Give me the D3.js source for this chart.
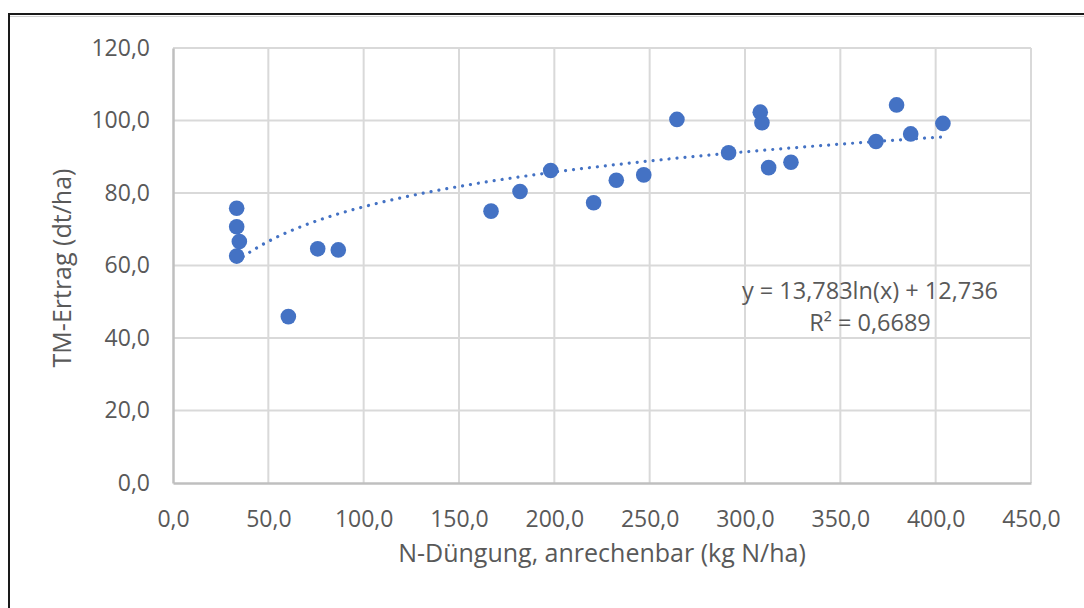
<!DOCTYPE html>
<html>
<head>
<meta charset="utf-8">
<script src="https://cdn.jsdelivr.net/npm/d3@7"></script>
<style>
  html, body { margin: 0; padding: 0; background: #fff; }
  svg { display: block; }
  text { font-family: "Open Sans", "Noto Sans", sans-serif; fill: #595959; }
</style>
</head>
<body>
<svg id="chart" width="1084" height="608"></svg>
<script>
// N-Düngung (kg N/ha) per plot
const nDuengung = [33.4, 33.4, 34.8, 33.4, 60.5, 75.9, 86.7, 166.8, 182.0, 198.1,
                   220.6, 232.5, 246.9, 264.3, 291.4, 308.0, 308.9, 312.4, 324.1,
                   368.7, 379.5, 386.9, 403.8];
// TM-Ertrag (dt/ha) per plot
const tmErtrag   = [75.8, 70.7, 66.6, 62.6, 45.9, 64.6, 64.3, 75.0, 80.4, 86.2,
                   77.3, 83.5, 85.0, 100.3, 91.1, 102.3, 99.4, 87.0, 88.5,
                   94.2, 104.3, 96.3, 99.2];
// logarithmic trend: y = a·ln(x) + b
const trendCoef = [13.783, 12.736];
const rSquared = 0.6689;
const xTicks = [0, 50, 100, 150, 200, 250, 300, 350, 400, 450];
const yTicks = [0, 20, 40, 60, 80, 100, 120];

const svg = d3.select("#chart");
const plot = { left: 173, right: 1031, top: 48, bottom: 483 };
const blue = "#4472C4";
const tickFont = 23;
const titleFont = 25;
const fmt = v => d3.format(".1f")(v).replace(".", ",");
const fmt3 = v => d3.format(".3f")(v).replace(".", ",");

const x = d3.scaleLinear().domain([0, 450]).range([plot.left, plot.right]);
const y = d3.scaleLinear().domain([0, 120]).range([plot.bottom, plot.top]);

// outer frame (top and left edges visible in the window)
svg.append("rect")
  .attr("x", 9).attr("y", 14)
  .attr("width", 1200).attr("height", 700)
  .attr("fill", "none").attr("stroke", "#1a1a1a").attr("stroke-width", 2);
svg.append("line")
  .attr("x1", 10).attr("x2", 1084).attr("y1", 16.5).attr("y2", 16.5)
  .attr("stroke", "#cfcfcf").attr("stroke-width", 1);

// gridlines
const grid = svg.append("g");
grid.selectAll("line.gx").data(xTicks.slice(1)).join("line")
  .attr("x1", d => x(d)).attr("x2", d => x(d))
  .attr("y1", plot.top).attr("y2", plot.bottom)
  .attr("stroke", "#d9d9d9").attr("stroke-width", 2);
grid.selectAll("line.gy").data(yTicks.slice(1)).join("line")
  .attr("x1", plot.left).attr("x2", plot.right)
  .attr("y1", d => y(d)).attr("y2", d => y(d))
  .attr("stroke", "#d9d9d9").attr("stroke-width", 2);

// axes
const xAxis = d3.axisBottom(x).tickValues(xTicks).tickFormat(fmt).tickSize(0);
const yAxis = d3.axisLeft(y).tickValues(yTicks).tickFormat(fmt).tickSize(0).tickPadding(23);

const gx = svg.append("g").attr("transform", `translate(0,${plot.bottom})`).call(xAxis);
const gy = svg.append("g").attr("transform", `translate(${plot.left},0)`).call(yAxis);
[gx, gy].forEach(g => {
  g.select(".domain").attr("stroke", "#bfbfbf").attr("stroke-width", 2.5);
  g.selectAll("text").attr("font-size", tickFont)
    .attr("font-family", "'Open Sans', sans-serif").attr("fill", "#595959");
});
gx.selectAll("text").attr("dy", null).attr("y", 44);

// trendline
const x0 = d3.min(nDuengung), x1 = d3.max(nDuengung);
const trendPts = d3.range(0, 121).map(i => {
  const xv = x0 + (x1 - x0) * i / 120;
  return [xv, trendCoef[0] * Math.log(xv) + trendCoef[1]];
});
svg.append("path")
  .datum(trendPts)
  .attr("d", d3.line().x(d => x(d[0])).y(d => y(d[1])))
  .attr("fill", "none").attr("stroke", blue)
  .attr("stroke-width", 3.2).attr("stroke-linecap", "round")
  .attr("stroke-dasharray", "0.01 8");

// data points
svg.append("g").selectAll("circle")
  .data(nDuengung.map((v, i) => [v, tmErtrag[i]]))
  .join("circle")
  .attr("cx", d => x(d[0])).attr("cy", d => y(d[1]))
  .attr("r", 7.8).attr("fill", blue);

// trend equation
const eq = svg.append("text").attr("text-anchor", "middle").attr("font-size", 23.5);
eq.append("tspan").attr("x", 870).attr("y", 299)
  .text(`y = ${fmt3(trendCoef[0])}ln(x) + ${fmt3(trendCoef[1])}`);
eq.append("tspan").attr("x", 870).attr("y", 331)
  .text(`R² = ${d3.format(".4f")(rSquared).replace(".", ",")}`);

// axis titles
svg.append("text")
  .attr("x", 602).attr("y", 562)
  .attr("text-anchor", "middle").attr("font-size", titleFont)
  .text("N-Düngung, anrechenbar (kg N/ha)");
svg.append("text")
  .attr("transform", "translate(71,268) rotate(-90)")
  .attr("text-anchor", "middle").attr("font-size", titleFont)
  .text("TM-Ertrag (dt/ha)");
</script>
</body>
</html>
